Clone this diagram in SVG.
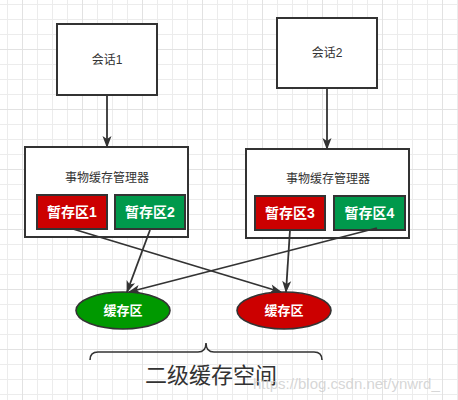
<svg xmlns="http://www.w3.org/2000/svg" width="458" height="400" viewBox="0 0 458 400">
<style>
.box{fill:#fff;stroke:#333;stroke-width:2}
.lbl{font-family:"Liberation Sans","Noto Sans CJK SC",sans-serif;font-size:12px;fill:#333;text-anchor:middle;dominant-baseline:central}
.tmp{stroke:#333;stroke-width:2}
.wt{font-family:"Liberation Sans","Noto Sans CJK SC",sans-serif;font-size:14px;font-weight:bold;fill:#fff;text-anchor:middle;dominant-baseline:central}
.el{font-family:"Liberation Sans","Noto Sans CJK SC",sans-serif;font-size:13px;font-weight:bold;fill:#fff;text-anchor:middle;dominant-baseline:central}
.edge{fill:none;stroke:#333;stroke-width:1.8;marker-end:url(#ah)}
</style>
<defs>
<pattern id="minor" x="7" y="4" width="15" height="15" patternUnits="userSpaceOnUse">
<path d="M0.5 0V15M0 0.5H15" stroke="#ececec" stroke-width="1" fill="none"/>
</pattern>
<pattern id="major" x="22" y="49" width="60" height="60" patternUnits="userSpaceOnUse">
<path d="M0.5 0V60M0 0.5H60" stroke="#e2e2e2" stroke-width="1" fill="none"/>
</pattern>
<marker id="ah" viewBox="0 0 12 10" refX="11" refY="5" markerWidth="12" markerHeight="10" orient="auto" markerUnits="userSpaceOnUse" overflow="visible">
<path d="M0 0.5L12 5L0 9.5L3 5Z" fill="#333"/>
</marker>
</defs>
<rect width="458" height="400" fill="#fff"/>
<rect width="458" height="400" fill="url(#minor)"/>
<rect width="458" height="400" fill="url(#major)"/>

<g id="session1"><rect class="box" x="57" y="24" width="100" height="71"/><text class="lbl" x="107" y="60">会话1</text></g>
<g id="session2"><rect class="box" x="277" y="18" width="100" height="70"/><text class="lbl" x="327" y="53">会话2</text></g>

<g id="manager1"><rect class="box" x="25" y="147" width="163" height="90"/><text class="lbl" x="107" y="178">事物缓存管理器</text></g>
<g id="manager2"><rect class="box" x="246" y="149" width="163" height="89"/><text class="lbl" x="328" y="179">事物缓存管理器</text></g>

<g id="temp1"><rect class="tmp" x="37" y="195" width="70" height="34" fill="#CC0000"/><text class="wt" x="72" y="212">暂存区1</text></g>
<g id="temp2"><rect class="tmp" x="115" y="195" width="70" height="34" fill="#00994C"/><text class="wt" x="150" y="212">暂存区2</text></g>
<g id="temp3"><rect class="tmp" x="255" y="196" width="70" height="34" fill="#CC0000"/><text class="wt" x="290" y="213">暂存区3</text></g>
<g id="temp4"><rect class="tmp" x="334" y="196" width="71" height="34" fill="#00994C"/><text class="wt" x="369.5" y="213">暂存区4</text></g>

<g id="cache1"><ellipse cx="123" cy="310.5" rx="47" ry="18.5" fill="#009900" stroke="#333" stroke-width="1.6"/><text class="el" x="123" y="310.5">缓存区</text></g>
<g id="cache2"><ellipse cx="284" cy="310.5" rx="47" ry="18.5" fill="#CC0000" stroke="#333" stroke-width="1.6"/><text class="el" x="284" y="310.5">缓存区</text></g>

<g id="connectors">
<line class="edge" x1="107" y1="96" x2="107" y2="147"/>
<line class="edge" x1="327" y1="89" x2="327" y2="149"/>
<line class="edge" x1="73" y1="229" x2="281" y2="292"/>
<line class="edge" x1="150" y1="230" x2="127" y2="292"/>
<line class="edge" x1="290" y1="230" x2="286" y2="292"/>
<line class="edge" x1="377" y1="228" x2="129" y2="292"/>
</g>

<g id="brace">
<path d="M90 360Q90 352 98 352H198Q206 352 206 343Q206 352 214 352H314Q322 352 322 360" fill="none" stroke="#333" stroke-width="1.6"/>
<text x="211" y="375" font-family="Liberation Sans,'Noto Sans CJK SC',sans-serif" font-size="22" fill="#333" text-anchor="middle" dominant-baseline="central">二级缓存空间</text>
</g>
<text x="253" y="383" font-family="Liberation Sans,'Noto Sans CJK SC',sans-serif" font-size="15" fill="#ccc" fill-opacity="0.8" dominant-baseline="central">https://blog.csdn.net/ynwrd_</text>
</svg>
